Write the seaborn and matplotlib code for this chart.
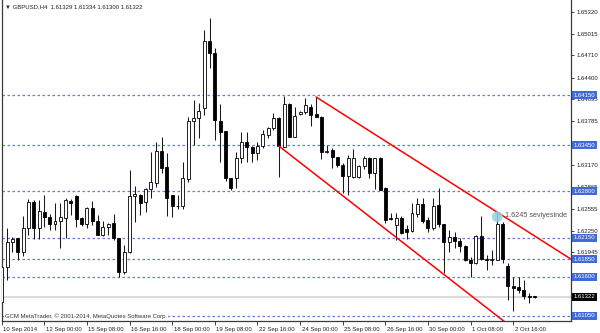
import matplotlib
matplotlib.use("Agg")
import matplotlib.pyplot as plt
import matplotlib.transforms as mtransforms
import numpy as np
import pandas as pd
import seaborn as sns

# ---------------- data ----------------
x_labels = ["10 Sep 2014", "12 Sep 00:00", "15 Sep 08:00", "16 Sep 16:00", "18 Sep 00:00",
            "19 Sep 08:00", "22 Sep 16:00", "24 Sep 00:00", "25 Sep 08:00", "26 Sep 16:00",
            "30 Sep 00:00", "1 Oct 08:00", "2 Oct 16:00"]
x_label_bars = [0, 8, 16, 24, 32, 40, 48, 56, 64, 72, 80, 88, 96]

open_ = [1.61246, 1.61738, 1.62089, 1.62141, 1.61948, 1.62286, 1.62655, 1.62281, 1.62515, 1.62444,
         1.62338, 1.62384, 1.62430, 1.62669, 1.62739, 1.62422, 1.62338, 1.62562, 1.62388, 1.62187,
         1.62304, 1.62352, 1.62141, 1.61672, 1.61944, 1.62735, 1.62749, 1.62647, 1.62834, 1.62922,
         1.63367, 1.63138, 1.62749, 1.62595, 1.62595, 1.62970, 1.63789, 1.63827, 1.63976, 1.64913,
         1.64749, 1.63789, 1.63649, 1.62984, 1.62984, 1.63265, 1.63498, 1.63428, 1.63335, 1.63442,
         1.63592, 1.63686, 1.63831, 1.63428, 1.64024, 1.63568, 1.63883, 1.63911, 1.63990, 1.63883,
         1.63849, 1.63358, 1.63381, 1.63279, 1.63171, 1.63016, 1.63006, 1.63006, 1.63157, 1.63265,
         1.63063, 1.63273, 1.62843, 1.62422, 1.62328, 1.62430, 1.62267, 1.62248, 1.62478, 1.62619,
         1.62398, 1.62281, 1.62609, 1.62338, 1.62093, 1.62163, 1.62107, 1.62037, 1.61836, 1.61790,
         1.62173, 1.61846, 1.61836, 1.61836, 1.62338, 1.61752, 1.61471, 1.61461, 1.61414, 1.61330,
         1.61329]
high = [1.61822, 1.62286, 1.62163, 1.62145, 1.62454, 1.62689, 1.62679, 1.62679, 1.62749, 1.62482,
        1.62633, 1.62633, 1.62703, 1.62693, 1.62749, 1.62444, 1.62585, 1.62665, 1.62468, 1.62384,
        1.62360, 1.62478, 1.62145, 1.62047, 1.63100, 1.62876, 1.62763, 1.62852, 1.63349, 1.63498,
        1.63560, 1.63344, 1.62755, 1.62749, 1.63217, 1.63849, 1.64084, 1.64038, 1.65067, 1.65232,
        1.64810, 1.64024, 1.63655, 1.62990, 1.63358, 1.63639, 1.63639, 1.63438, 1.63498, 1.63662,
        1.63709, 1.63897, 1.63845, 1.64140, 1.64042, 1.63990, 1.63929, 1.64108, 1.64028, 1.64126,
        1.63859, 1.63452, 1.63405, 1.63283, 1.63195, 1.63311, 1.63396, 1.63171, 1.63297, 1.63279,
        1.63275, 1.63278, 1.62866, 1.62492, 1.62492, 1.62454, 1.62328, 1.62633, 1.62711, 1.62711,
        1.62444, 1.62703, 1.62852, 1.62342, 1.62257, 1.62234, 1.62141, 1.62047, 1.61883, 1.62187,
        1.62454, 1.61906, 1.61976, 1.62492, 1.62374, 1.61790, 1.61601, 1.61601, 1.61555, 1.61368,
        1.61334]
low = [1.61148, 1.61555, 1.61953, 1.61836, 1.61892, 1.62187, 1.62127, 1.62127, 1.62304, 1.62257,
       1.62257, 1.62009, 1.62141, 1.62468, 1.62295, 1.62314, 1.62281, 1.62328, 1.62187, 1.62180,
       1.62187, 1.62117, 1.61593, 1.61639, 1.61940, 1.62374, 1.62468, 1.62515, 1.62711, 1.62866,
       1.63054, 1.62458, 1.62444, 1.62548, 1.62548, 1.62936, 1.63452, 1.63546, 1.63873, 1.64529,
       1.63522, 1.63217, 1.62950, 1.62819, 1.62852, 1.63195, 1.63217, 1.63217, 1.63241, 1.63405,
       1.63546, 1.63662, 1.63006, 1.63424, 1.63560, 1.63564, 1.63873, 1.63887, 1.63719, 1.63841,
       1.63251, 1.63335, 1.63124, 1.63147, 1.62773, 1.62749, 1.62984, 1.62984, 1.63110, 1.62984,
       1.62829, 1.62819, 1.62360, 1.62398, 1.62117, 1.62201, 1.62127, 1.62234, 1.62444, 1.62352,
       1.62234, 1.62257, 1.62304, 1.61658, 1.61953, 1.62000, 1.61953, 1.61822, 1.61601, 1.61776,
       1.61836, 1.61695, 1.61766, 1.61830, 1.61790, 1.61274, 1.61119, 1.61368, 1.61284, 1.61228,
       1.61300]
close = [1.61738, 1.62089, 1.62131, 1.61953, 1.62290, 1.62655, 1.62281, 1.62524, 1.62444, 1.62338,
         1.62384, 1.62436, 1.62679, 1.62633, 1.62412, 1.62338, 1.62562, 1.62388, 1.62187, 1.62304,
         1.62342, 1.62141, 1.61672, 1.61944, 1.62735, 1.62763, 1.62641, 1.62834, 1.62936, 1.63367,
         1.63133, 1.62711, 1.62595, 1.62599, 1.62992, 1.63789, 1.63827, 1.63929, 1.64913, 1.64749,
         1.63803, 1.63639, 1.62984, 1.62852, 1.63265, 1.63498, 1.63428, 1.63335, 1.63442, 1.63602,
         1.63686, 1.63835, 1.63438, 1.64024, 1.63568, 1.63859, 1.63911, 1.64014, 1.63873, 1.63849,
         1.63358, 1.63372, 1.63279, 1.63171, 1.63016, 1.63265, 1.63265, 1.63157, 1.63265, 1.63063,
         1.63265, 1.62825, 1.62398, 1.62419, 1.62422, 1.62220, 1.62229, 1.62492, 1.62619, 1.62384,
         1.62281, 1.62599, 1.62342, 1.62093, 1.62163, 1.62103, 1.62033, 1.61836, 1.61790, 1.62173,
         1.61846, 1.61836, 1.61846, 1.62338, 1.61846, 1.61471, 1.61438, 1.61414, 1.61330, 1.61312,
         1.61322]

level_prices = [1.64150, 1.63450, 1.62800, 1.62150, 1.61850, 1.61600, 1.61050]
level_labels = ["1.64150", "1.63450", "1.62800", "1.62150", "1.61850", "1.61600", "1.61050"]
y_ticks = [1.65320, 1.65015, 1.64710, 1.64400, 1.64095, 1.63785, 1.63170,
           1.62865, 1.62555, 1.62250, 1.61945]
y_tick_labels = ["1.65320", "1.65015", "1.64710", "1.64400", "1.64095", "1.63785",
                 "1.63170", "1.62865", "1.62555", "1.62250", "1.61945"]
last_price = 1.61322
last_label = "1.61322"

upper_trend_bars = [59, 106.8]
upper_trend_prices = [1.64126, 1.61850]
lower_trend_bars = [52, 110]
lower_trend_prices = [1.63438, 1.60058]

note_bar = 93.0
note_price = 1.62444
note_text = "1.6245 seviyesinde"
note_text_bar = 94.4
note_text_price = 1.62455

header = "GBPUSD,H4  1.61329 1.61334 1.61300 1.61322"
copyright_text = "GCM MetaTrader, \u00a9 2001-2014, MetaQuotes Software Corp."

# ---------------- figure ----------------
sns.set_style("white")
plt.rcParams["font.family"] = ["Liberation Sans", "DejaVu Sans"]

fig = plt.figure(figsize=(6.0, 3.33), dpi=100)
W, H = 600.0, 333.0
ax = fig.add_axes([1.5 / W, 1 - 321 / H, (571 - 1.5) / W, 321 / H])
ax.set_facecolor("white")

df = pd.DataFrame({"bar": np.arange(len(open_)), "open": open_, "high": high,
                   "low": low, "close": close})
df["bull"] = df["close"] >= df["open"]
df["bottom"] = df[["open", "close"]].min(axis=1)
df["height"] = (df["close"] - df["open"]).abs().clip(lower=0.00003)

# level lines
for p in level_prices:
    ax.axhline(p, color="#5d7fdc", lw=0.9, ls=(0, (2.0, 2.0)), zorder=1)
ax.axhline(last_price, color="#d4d4d4", lw=1.2, zorder=1)

# wicks
ax.vlines(df["bar"], df["low"], df["high"], color="#1a1a1a", lw=0.75, zorder=2)
# bodies
colors = np.where(df["bull"], "white", "black")
ax.bar(df["bar"], df["height"], bottom=df["bottom"], width=0.56, color=colors,
       edgecolor="black", linewidth=0.6, zorder=3)

# trend lines
tl = pd.DataFrame({"bar": upper_trend_bars + lower_trend_bars,
                   "price": upper_trend_prices + lower_trend_prices,
                   "line": ["up", "up", "low", "low"]})
sns.lineplot(data=tl, x="bar", y="price", units="line", estimator=None, color="#ff0000",
             lw=1.1, ax=ax, zorder=4, legend=False)

# annotation circle and text
ax.scatter([note_bar], [note_price], s=60, color="#8fd0dc", alpha=0.85, zorder=5,
           edgecolors="none")
ax.text(note_text_bar, note_text_price, note_text, fontsize=5.2, color="#555555",
        va="center", ha="left", zorder=6, clip_on=True)

ax.set_xlim(-0.04, 106.84)
ax.set_ylim(1.60979, 1.65489)
ax.set_xlabel("")
ax.set_ylabel("")

# axes styling
for side in ["left", "right", "bottom"]:
    ax.spines[side].set_color("#3a3a3a")
    ax.spines[side].set_linewidth(0.9)
ax.spines["top"].set_visible(False)

ax.yaxis.tick_right()
ax.set_yticks(y_ticks)
ax.set_yticklabels(y_tick_labels)
ax.tick_params(axis="y", right=True, left=False, length=2.5, width=0.6, pad=1.2,
               labelsize=4.3, colors="#222222")

ax.set_xticks(x_label_bars)
ax.set_xticklabels(x_labels)
ax.tick_params(axis="x", bottom=True, length=3, width=0.6, pad=1.0, labelsize=4.3,
               colors="#222222")
offset = mtransforms.ScaledTranslation(1.5 / 100, 0, fig.dpi_scale_trans)
for lab in ax.get_xticklabels():
    lab.set_horizontalalignment("left")
    lab.set_transform(lab.get_transform() + offset)

# right-side price boxes
ytr = ax.get_yaxis_transform()
for p, lab in zip(level_prices, level_labels):
    ax.text(1.0045, p, lab, transform=ytr, fontsize=4.3, color="white", ha="left",
            va="center", zorder=20, clip_on=False,
            bbox=dict(boxstyle="square,pad=0.25", fc="#3f6ad8", ec="none"))
ax.text(1.0045, last_price, last_label, transform=ytr, fontsize=4.3, color="white",
        ha="left", va="center", zorder=21, clip_on=False,
        bbox=dict(boxstyle="square,pad=0.25", fc="black", ec="none"))

# header and copyright
fig.text(5 / W, 1 - 7 / H, "\u25bc " + header, fontsize=4.3, color="#222222",
         ha="left", va="center", family=["Liberation Sans", "DejaVu Sans"])
ax.text(3.5 / 569.5, 1.61050, copyright_text, transform=ytr, fontsize=4.3,
        color="#333333", ha="left", va="center", zorder=7,
        bbox=dict(boxstyle="square,pad=0.1", fc="white", ec="none"))

fig.savefig("out.png", dpi=100, facecolor="white")
